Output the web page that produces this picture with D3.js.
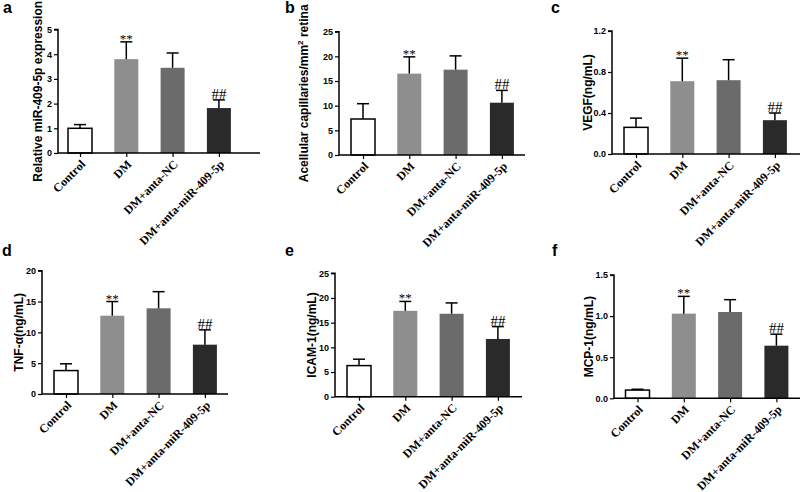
<!DOCTYPE html>
<html><head><meta charset="utf-8">
<script src="https://cdn.jsdelivr.net/npm/d3@7"></script>
<style>body{margin:0;background:#fff}svg{display:block}</style>
</head><body>
<svg id="chart" width="800" height="492"></svg>
<script>
const categories = ["Control", "DM", "DM+anta-NC", "DM+anta-miR-409-5p"];
const barColors = ["#ffffff", "#8e8e8e", "#6b6b6b", "#2a2a2a"];
const sigMarks = ["", "**", "", "##"];

const mirMean = [1.0, 3.8, 3.45, 1.82];
const mirSD = [0.15, 0.7, 0.6, 0.33];
const mirTicks = [0, 1, 2, 3, 4, 5];

const acellMean = [7.3, 16.5, 17.3, 10.6];
const acellSD = [3.1, 3.4, 2.8, 2.5];
const acellTicks = [0, 5, 10, 15, 20, 25];

const vegfMean = [0.26, 0.71, 0.72, 0.33];
const vegfSD = [0.09, 0.225, 0.2, 0.07];
const vegfTicks = [0, 0.4, 0.8, 1.2];

const tnfMean = [3.8, 12.7, 13.9, 8.0];
const tnfSD = [1.1, 2.3, 2.7, 2.4];
const tnfTicks = [0, 5, 10, 15, 20];

const icamMean = [6.3, 17.4, 16.8, 11.7];
const icamSD = [1.3, 1.9, 2.2, 2.5];
const icamTicks = [0, 5, 10, 15, 20, 25];

const mcpMean = [0.10, 1.03, 1.05, 0.64];
const mcpSD = [0.01, 0.21, 0.15, 0.14];
const mcpTicks = [0, 0.5, 1.0, 1.5];

const panels = [
  {letter: "a", lx: 3, ly: 13, title: ["Relative miR-409-5p expression"], tx: 38, mean: mirMean, sd: mirSD, ticks: mirTicks, fmt: d3.format("d"),
   x0: 58, x1: 260, yTop: 29.5, y0: 153, off: 22},
  {letter: "b", lx: 285, ly: 13, title: ["Acellular capillaries/mm", "2", " retina"], tx: 304, mean: acellMean, sd: acellSD, ticks: acellTicks, fmt: d3.format("d"),
   x0: 339, x1: 525, yTop: 31.7, y0: 155, off: 24},
  {letter: "c", lx: 551, ly: 13, title: ["VEGF(ng/mL)"], tx: 588, mean: vegfMean, sd: vegfSD, ticks: vegfTicks, fmt: d3.format(".1f"),
   x0: 612, x1: 802, yTop: 31, y0: 154, off: 24},
  {letter: "d", lx: 2, ly: 256, title: ["TNF-α(ng/mL)"], tx: 19, mean: tnfMean, sd: tnfSD, ticks: tnfTicks, fmt: d3.format("d"),
   x0: 42, x1: 228, yTop: 270.7, y0: 394, off: 24},
  {letter: "e", lx: 285, ly: 256, title: ["ICAM-1(ng/mL)"], tx: 312, mean: icamMean, sd: icamSD, ticks: icamTicks, fmt: d3.format("d"),
   x0: 335, x1: 522, yTop: 273.3, y0: 396.7, off: 24},
  {letter: "f", lx: 552, ly: 256, title: ["MCP-1(ng/mL)"], tx: 589, mean: mcpMean, sd: mcpSD, ticks: mcpTicks, fmt: d3.format(".1f"),
   x0: 614, x1: 802, yTop: 275, y0: 398.3, off: 23.5}
];

const svg = d3.select("#chart");
const step = 46.3, barW = 24;

panels.forEach(p => {
  const g = svg.append("g");
  const yMax = p.ticks[p.ticks.length - 1];
  const y = d3.scaleLinear().domain([0, yMax]).range([p.y0, p.yTop]);
  const x = d3.scalePoint().domain(categories)
    .range([p.x0 + p.off, p.x0 + p.off + step * (categories.length - 1)]);

  g.append("text").attr("x", p.lx).attr("y", p.ly)
    .attr("font-family", "Liberation Sans, Arial, sans-serif").attr("font-weight", "bold")
    .attr("font-size", 16).attr("fill", "#000").text(p.letter);

  const data = categories.map((c, i) => ({c, i, m: p.mean[i], s: p.sd[i]}));
  g.selectAll("rect.bar").data(data).enter().append("rect")
    .attr("x", d => x(d.c) - barW / 2).attr("width", barW)
    .attr("y", d => y(d.m)).attr("height", d => p.y0 - y(d.m))
    .attr("fill", d => barColors[d.i])
    .attr("stroke", d => d.i === 0 ? "#000" : "none").attr("stroke-width", 1.5);

  g.selectAll("line.err").data(data).enter().append("line")
    .attr("x1", d => x(d.c)).attr("x2", d => x(d.c))
    .attr("y1", d => y(d.m)).attr("y2", d => y(d.m + d.s))
    .attr("stroke", "#000").attr("stroke-width", 1.5);
  g.selectAll("line.cap").data(data).enter().append("line")
    .attr("x1", d => x(d.c) - 6).attr("x2", d => x(d.c) + 6)
    .attr("y1", d => y(d.m + d.s)).attr("y2", d => y(d.m + d.s))
    .attr("stroke", "#000").attr("stroke-width", 1.5);

  g.selectAll("text.sig").data(data.filter(d => sigMarks[d.i])).enter().append("text")
    .attr("x", d => x(d.c)).attr("y", d => y(d.m + d.s) - (sigMarks[d.i] === "**" ? -1 : 1))
    .attr("text-anchor", "middle").attr("fill", "#000")
    .attr("font-family", "Liberation Serif, Times New Roman, serif")
    .attr("font-size", d => sigMarks[d.i] === "**" ? 13 : 15)
    .text(d => sigMarks[d.i]);

  const ya = d3.axisLeft(y).tickValues(p.ticks).tickFormat(p.fmt).tickSize(4).tickPadding(2);
  const yg = g.append("g").attr("transform", `translate(${p.x0},0)`).call(ya);
  yg.select(".domain").attr("stroke-width", 1.5).attr("d", `M-4,${p.yTop}H0V${p.y0}`);
  yg.selectAll(".tick line").attr("stroke-width", 1.2);
  yg.selectAll(".tick text").attr("font-family", "Liberation Sans, Arial, sans-serif")
    .attr("font-weight", "bold").attr("font-size", 9).attr("fill", "#000");

  const xa = d3.axisBottom(x).tickSize(4).tickFormat("");
  const xg = g.append("g").attr("transform", `translate(0,${p.y0})`).call(xa);
  xg.select(".domain").attr("stroke-width", 1.5).attr("d", `M${p.x0},0H${p.x1}`);
  xg.selectAll(".tick line").attr("stroke-width", 1.2);

  g.selectAll("text.cat").data(categories).enter().append("text")
    .attr("transform", c => `translate(${x(c) + 6},${p.y0 + 12}) rotate(-45)`)
    .attr("text-anchor", "end").attr("fill", "#000")
    .attr("font-family", "Liberation Serif, Times New Roman, serif")
    .attr("font-weight", "bold").attr("font-size", 12).text(c => c);

  const t = g.append("text")
    .attr("transform", `translate(${p.tx + 4},${(p.yTop + p.y0) / 2}) rotate(-90)`)
    .attr("text-anchor", "middle").attr("fill", "#000")
    .attr("font-family", "Liberation Sans, Arial, sans-serif")
    .attr("font-weight", "bold").attr("font-size", 12);
  p.title.forEach((s, i) => {
    const ts = t.append("tspan").text(s);
    if (p.title.length === 3 && i === 1) ts.attr("font-size", 8).attr("dy", -5);
    if (p.title.length === 3 && i === 2) ts.attr("dy", 5);
  });
});
</script>
</body></html>
